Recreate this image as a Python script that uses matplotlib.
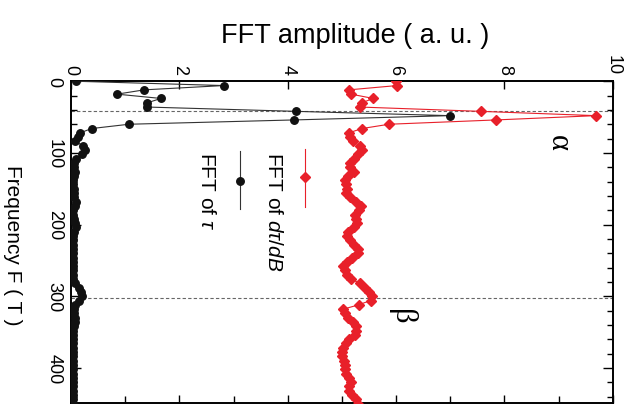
import matplotlib
matplotlib.use('Agg')
import matplotlib.pyplot as plt
from matplotlib.ticker import MultipleLocator

plt.rcParams['font.family'] = ['Liberation Sans', 'DejaVu Sans']
plt.rcParams['mathtext.fontset'] = 'custom'
plt.rcParams['mathtext.rm'] = 'Liberation Sans'
plt.rcParams['mathtext.it'] = 'Liberation Sans:italic'

# FFT frequency bins (T)
freq = [0, 6, 12, 18, 24, 30, 36, 42, 48, 54, 60, 66, 72, 78, 84, 90, 96, 102,
        108, 114, 120, 126, 132, 138, 144, 150, 156, 162, 168, 174, 180, 186,
        192, 198, 204, 210, 216, 222, 228, 234, 240, 246, 252, 258, 264, 270,
        276, 282, 288, 294, 300, 306, 312, 318, 324, 330, 336, 342, 348, 354,
        360, 366, 372, 378, 384, 390, 396, 402, 408, 414, 420, 426, 432, 438,
        444, 450]

# FFT of d(tau)/dB, offset by +5
amp_dtau = [6.00, 6.02, 5.13, 5.17, 5.58, 5.37, 5.34, 7.56, 9.69, 7.84, 5.87,
            5.37, 5.13, 5.15, 5.20, 5.33, 5.37, 5.30, 5.22, 5.15, 5.15, 5.22,
            5.12, 5.06, 5.08, 5.09, 5.08, 5.15, 5.27, 5.36, 5.32, 5.25, 5.26,
            5.28, 5.22, 5.12, 5.09, 5.15, 5.23, 5.30, 5.29, 5.19, 5.10, 5.03,
            5.05, 5.10, 5.16, 5.34, 5.42, 5.50, 5.56, 5.53, 5.31, 5.03, 5.05,
            5.12, 5.20, 5.27, 5.27, 5.24, 5.13, 5.07, 5.03, 5.01, 5.00, 5.04,
            5.06, 5.06, 5.07, 5.14, 5.16, 5.13, 5.14, 5.19, 5.27, 5.30]

# FFT of tau
amp_tau = [0.09, 2.82, 1.35, 0.85, 1.66, 1.41, 1.41, 4.15, 6.99, 4.11, 1.07,
           0.38, 0.17, 0.12, 0.07, 0.23, 0.25, 0.20, 0.10, 0.06, 0.05, 0.08,
           0.05, 0.04, 0.04, 0.05, 0.05, 0.06, 0.09, 0.07, 0.04, 0.04, 0.05,
           0.07, 0.09, 0.05, 0.04, 0.04, 0.03, 0.04, 0.04, 0.03, 0.04, 0.04,
           0.03, 0.04, 0.04, 0.08, 0.15, 0.19, 0.20, 0.15, 0.08, 0.05, 0.06,
           0.07, 0.07, 0.05, 0.04, 0.04, 0.03, 0.04, 0.04, 0.03, 0.03, 0.04,
           0.04, 0.03, 0.04, 0.03, 0.03, 0.04, 0.03, 0.03, 0.04, 0.04]

f_alpha = 42
f_beta = 303

amp_ticks = [0, 2, 4, 6, 8, 10]
freq_ticks = [0, 100, 200, 300, 400]

red = '#e8202a'

fig = plt.figure(figsize=(6.34, 4.06), dpi=100)
ax = fig.add_axes([0.112, 0.005, 0.8544, 0.7924])

# rotated layout: frequency runs downwards, amplitude to the right
ax.axhline(f_alpha, color='#666666', lw=0.8, ls=(0, (3, 2)), zorder=1)
ax.axhline(f_beta, color='#666666', lw=0.8, ls=(0, (3, 2)), zorder=1)

ax.plot(amp_tau, freq, color='#333333', lw=0.8, marker='o', ms=5.4,
        mfc='#111111', mec='#111111', zorder=3)
ax.plot(amp_dtau, freq, color=red, lw=0.8, marker='D', ms=5.6,
        mfc=red, mec=red, zorder=4)

ax.set_xlim(0, 10)
ax.set_ylim(449, 0)

ax.xaxis.set_ticks_position('both')
ax.xaxis.set_label_position('top')
ax.set_xticks(amp_ticks)
ax.xaxis.set_minor_locator(MultipleLocator(1))
ax.set_yticks(freq_ticks)
ax.yaxis.set_minor_locator(MultipleLocator(20))

ax.tick_params(axis='x', which='major', direction='in', top=True, bottom=True,
               labeltop=True, labelbottom=False, length=6, width=1,
               labelsize=13, pad=5, labelrotation=-90)
ax.tick_params(axis='x', which='minor', direction='in', top=False, bottom=True,
               length=5, width=1)
ax.tick_params(axis='y', which='major', direction='in', left=True, right=True,
               length=7, width=1, labelsize=13, pad=6, labelrotation=-90)
ax.tick_params(axis='y', which='minor', direction='in', left=True, right=True,
               length=4, width=1)
for lab in ax.get_yticklabels():
    lab.set_verticalalignment('center')

for sp in ax.spines.values():
    sp.set_linewidth(1.4)

# legend, drawn sideways like the rest
ax.plot([4.32, 4.32], [94, 175], color=red, lw=0.8, zorder=4)
ax.plot([4.32], [134], marker='D', ms=5.6, color=red, zorder=4)
ax.text(3.73, 97, r'FFT of $d\tau/dB$', rotation=-90, fontsize=15,
        ha='center', va='top')
ax.plot([3.12, 3.12], [97, 178], color='#333333', lw=0.8, zorder=4)
ax.plot([3.12], [139], marker='o', ms=5.4, color='#111111', zorder=4)
ax.text(2.51, 97, r'FFT of $\tau$', rotation=-90, fontsize=15,
        ha='center', va='top')

ax.text(8.99, 85, 'α', rotation=-90, fontsize=22, family='Liberation Serif',
        ha='center', va='center')
ax.text(6.11, 327, 'β', rotation=-90, fontsize=22, family='Liberation Serif',
        ha='center', va='center')

fig.text(355 / 634, 1 - 43 / 406, 'FFT amplitude ( a. u. )', fontsize=19.5,
         ha='center', va='baseline')
fig.text(12 / 634, 1 - 245 / 406, 'Frequency F ( T )', fontsize=15,
         rotation=-90, ha='center', va='center')

fig.savefig('out.png', dpi=100)
